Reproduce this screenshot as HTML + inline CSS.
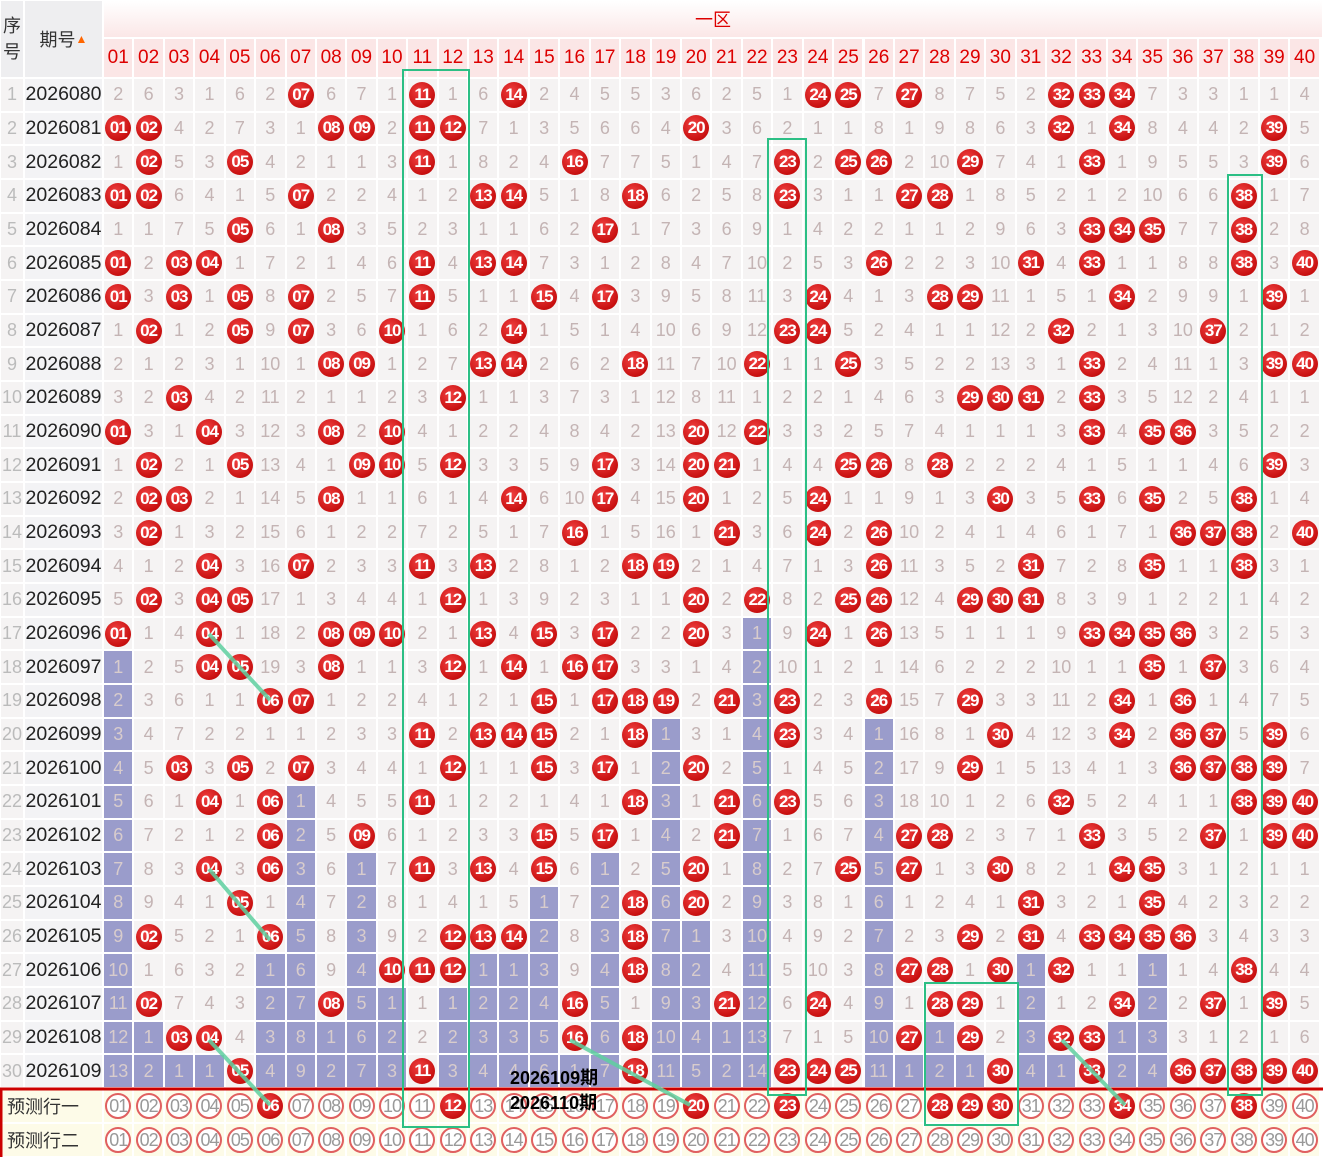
<!DOCTYPE html>
<html><head><meta charset="utf-8"><style>
*{margin:0;padding:0;box-sizing:border-box}
body{width:1323px;height:1157px;position:relative;background:#fff;overflow:hidden;font-family:"Liberation Sans","Noto Sans CJK SC",sans-serif}
.c{position:absolute;display:flex;align-items:center;justify-content:center;border:1px solid #fff}
.m{background:#f5f3f3;color:#c4b4b4;font-size:18px}
.p{background:#9a9ccb;color:#d8cccc}
.b{width:26px;height:26px;border-radius:50%;background:radial-gradient(circle at 40% 35%,#f04040,#c81010 70%,#a00 100%);color:#fff;font-weight:bold;font-size:17px;display:flex;align-items:center;justify-content:center;letter-spacing:-1px}
.h{width:26px;height:26px;border-radius:50%;border:2px solid #e06060;background:#fff;color:#999;font-size:18px;display:flex;align-items:center;justify-content:center;letter-spacing:-1px}
</style></head><body>
<div class="c" style="left:0;top:0;width:24px;height:78px;background:#eeeef0;font-size:18px;color:#333;flex-direction:column;line-height:1.45">序<br>号</div>
<div class="c" style="left:24px;top:0;width:79px;height:78px;background:#eeeef0;font-size:18px;color:#333">期号<span style="color:#f60;font-size:12px">▲</span></div>
<div class="c" style="left:103px;top:0;width:1220px;height:38px;background:linear-gradient(#fff,#fbe7e7);color:#d00;font-size:18px">一区</div>
<div id="g"></div>
<svg style="position:absolute;left:0;top:0" width="1323" height="1157">
<line x1="0" y1="1089" x2="1323" y2="1089" stroke="#c00" stroke-width="3"/>
<line x1="1" y1="1089" x2="1" y2="1157" stroke="#c00" stroke-width="3"/>
<g fill="none" stroke="#2cbf85" stroke-width="2">
<rect x="403" y="70" width="66" height="1057"/>
<rect x="768" y="139" width="38" height="956"/>
<rect x="1228" y="175" width="34" height="920"/>
<rect x="925" y="983" width="93" height="142"/>
</g>
<g stroke="#5fd0a0" stroke-width="4" opacity="0.85">
<line x1="209" y1="634" x2="270" y2="700"/><line x1="209" y1="869" x2="270" y2="940"/>
<line x1="209" y1="1040" x2="270" y2="1105"/><line x1="570" y1="1040" x2="690" y2="1105"/>
<line x1="1062" y1="1040" x2="1125" y2="1105"/></g>
<text x="510" y="1084" font-size="18" font-weight="bold" font-family="Liberation Sans,Noto Sans CJK SC,sans-serif">2026109期</text>
<text x="510" y="1109" font-size="18" font-weight="bold" font-family="Liberation Sans,Noto Sans CJK SC,sans-serif">2026110期</text>
</svg>
<script>
var hits=[[7,11,14,24,25,27,32,33,34],[1,2,8,9,11,12,20,32,34,39],[2,5,11,16,23,25,26,29,33,39],[1,2,7,13,14,18,23,27,28,38],[5,8,17,33,34,35,38],[1,3,4,11,13,14,26,31,33,38,40],[1,3,5,7,11,15,17,24,28,29,34,39],[2,5,7,10,14,23,24,32,37],[8,9,13,14,18,22,25,33,39,40],[3,12,29,30,31,33],[1,4,8,10,20,22,33,35,36],[2,5,9,10,12,17,20,21,25,26,28,39],[2,3,8,14,17,20,24,30,33,35,38],[2,16,21,24,26,36,37,38,40],[4,7,11,13,18,19,26,31,35,38],[2,4,5,12,20,22,25,26,29,30,31],[1,4,8,9,10,13,15,17,20,24,26,33,34,35,36],[4,5,8,12,14,16,17,35,37],[6,7,15,17,18,19,21,23,26,29,34,36],[11,13,14,15,18,23,30,34,36,37,39],[3,5,7,12,15,17,20,29,36,37,38,39],[4,6,11,18,21,23,32,38,39,40],[6,9,15,17,21,27,28,33,37,39,40],[4,6,11,13,15,20,25,27,30,34,35],[5,18,20,31,35],[2,6,12,13,14,18,29,31,33,34,35,36],[10,11,12,18,27,28,30,32,38],[2,8,16,21,24,28,29,34,37,39],[3,4,16,18,27,29,32,33],[5,11,18,23,24,25,30,33,36,37,38,39,40]];
var r1=[2,6,3,1,6,2,0,6,7,1,0,1,6,0,2,4,5,5,3,6,2,5,1,0,0,7,0,8,7,5,2,0,0,0,7,3,3,1,1,4];
var pred=[6,12,20,23,28,29,30,34,38];
var h='',W=30.42,H=33.67;
function X(i){return 103+(i-1)*W}
function p2(n){return n<10?'0'+n:''+n}
for(var i=1;i<=40;i++)h+='<div class="c" style="left:'+X(i)+'px;top:38px;width:'+W+'px;height:40px;background:#fbe6e6;color:#d00;font-size:19px">'+p2(i)+'</div>';
var miss=[],last=[];
for(var i=1;i<=40;i++){last[i]=0;for(var j=0;j<30;j++)if(hits[j].indexOf(i)>=0)last[i]=j+1;}
for(var j=0;j<30;j++){var y=78+j*H;
h+='<div class="c m" style="left:0;top:'+y+'px;width:24px;height:'+H+'px;color:#bbb">'+(j+1)+'</div>';
h+='<div class="c" style="left:24px;top:'+y+'px;width:79px;height:'+H+'px;background:#f3f3f5;color:#222;font-size:19.5px">'+(2026080+j)+'</div>';
for(var i=1;i<=40;i++){var hit=hits[j].indexOf(i)>=0,v;
if(j==0)v=r1[i-1];else v=hit?0:miss[i]+1;
if(hit)v=0; miss[i]=v;
var cls=(!hit&&j+1>last[i])?'c m p':'c m';
h+='<div class="'+cls+'" style="left:'+X(i)+'px;top:'+y+'px;width:'+W+'px;height:'+H+'px">'+(hit?'<div class="b">'+p2(i)+'</div>':v)+'</div>';}}
var lab=['预测行一','预测行二'];
for(var k=0;k<2;k++){var y=1089+k*34;
h+='<div class="c" style="left:0;top:'+y+'px;width:103px;height:34px;background:#fdfbe8;font-size:18px;color:#333;justify-content:flex-start;padding-left:6px">'+lab[k]+'</div>';
for(var i=1;i<=40;i++){var f=k==0&&pred.indexOf(i)>=0;
h+='<div class="c" style="left:'+X(i)+'px;top:'+y+'px;width:'+W+'px;height:34px;background:#fdfbe8"><div class="'+(f?'b':'h')+'">'+p2(i)+'</div></div>';}}
document.getElementById('g').innerHTML=h;
</script>
</body></html>
